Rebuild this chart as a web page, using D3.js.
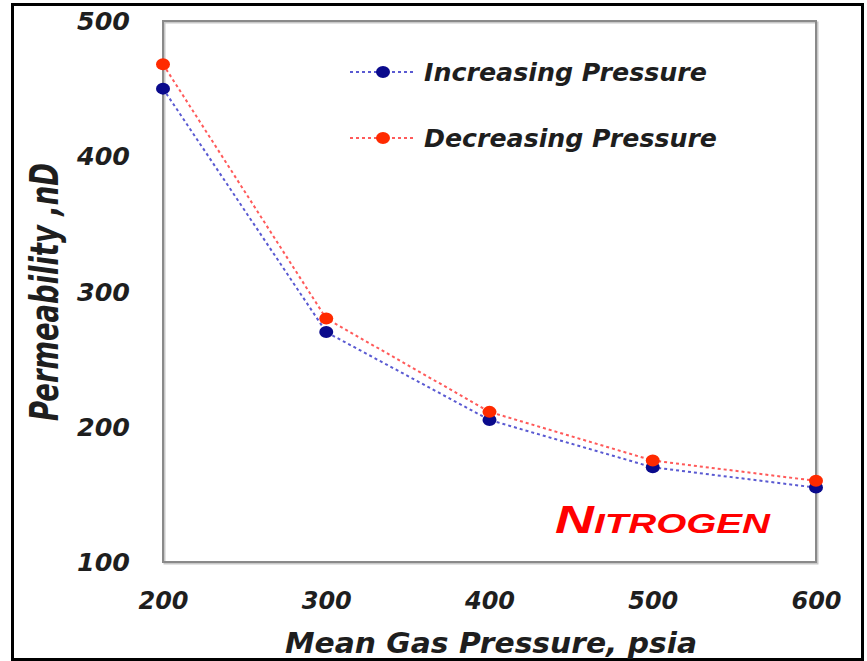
<!DOCTYPE html>
<html>
<head>
<meta charset="utf-8">
<script src="https://cdn.jsdelivr.net/npm/d3@7"></script>
<style>
  html, body { margin: 0; padding: 0; background: #fff; }
  svg { display: block; }
  text { font-family: "DejaVu Sans", sans-serif; font-weight: bold; font-style: italic; fill: #1e1e1e; }
</style>
</head>
<body>
<script>
// Mean gas pressure (psia) and measured permeability (nD) for nitrogen
const pressures = [200, 300, 400, 500, 600];
const increasingPressure = [450, 270, 205, 170, 155];
const decreasingPressure = [468, 280, 211, 175, 160];
const xTicks = [200, 300, 400, 500, 600];
const yTicks = [100, 200, 300, 400, 500];
const seriesNames = ["Increasing Pressure", "Decreasing Pressure"];

const W = 867, H = 661;
const plot = { left: 163, top: 21, right: 816, bottom: 562 };

const svg = d3.select("body").append("svg").attr("width", W).attr("height", H);

const x = d3.scaleLinear().domain([200, 600]).range([plot.left, plot.right]);
const y = d3.scaleLinear().domain([100, 500]).range([plot.bottom, plot.top]);

// outer border
svg.append("rect")
  .attr("x", 12.5).attr("y", 4.5).attr("width", 850).attr("height", 655)
  .attr("fill", "none").attr("stroke", "#000").attr("stroke-width", 3);

// plot frame with a soft shadow edge
svg.append("rect")
  .attr("x", plot.left + 1.5).attr("y", plot.top + 1.5)
  .attr("width", plot.right - plot.left).attr("height", plot.bottom - plot.top)
  .attr("fill", "none").attr("stroke", "#c8c8c8").attr("stroke-width", 2);
svg.append("rect")
  .attr("x", plot.left).attr("y", plot.top)
  .attr("width", plot.right - plot.left).attr("height", plot.bottom - plot.top)
  .attr("fill", "none").attr("stroke", "#8a8a8a").attr("stroke-width", 2);

// y axis labels
const yAxis = svg.append("g")
  .attr("transform", `translate(${plot.left - 33},0)`)
  .call(d3.axisLeft(y).tickValues(yTicks).tickSize(0).tickPadding(0).tickFormat(d3.format("d")));
yAxis.select(".domain").remove();
yAxis.selectAll("text")
  .attr("font-size", 24).attr("font-family", null).attr("fill", "#1e1e1e")
  .attr("dy", "0.36em").attr("text-anchor", "end")
  .attr("textLength", 53).attr("lengthAdjust", "spacingAndGlyphs");

// x axis labels
const xAxis = svg.append("g")
  .attr("transform", `translate(0,${plot.bottom + 38})`)
  .call(d3.axisBottom(x).tickValues(xTicks).tickSize(0).tickPadding(0).tickFormat(d3.format("d")));
xAxis.select(".domain").remove();
xAxis.selectAll("text")
  .attr("font-size", 24).attr("font-family", null).attr("fill", "#1e1e1e")
  .attr("dy", "0.36em").attr("y", 0);

// axis titles
svg.append("text")
  .attr("x", 491).attr("y", 653)
  .attr("text-anchor", "middle").attr("font-size", 28)
  .attr("textLength", 412).attr("lengthAdjust", "spacingAndGlyphs")
  .text("Mean Gas Pressure, psia");

svg.append("text")
  .attr("transform", "translate(58,292) rotate(-90) scale(1,1.4)")
  .attr("text-anchor", "middle").attr("font-size", 28)
  .attr("textLength", 258).attr("lengthAdjust", "spacingAndGlyphs")
  .text("Permeability ,nD");

const series = [
  { name: seriesNames[0], values: increasingPressure, line: "#5a5ad2", dot: "#0a0a8c", len: 283 },
  { name: seriesNames[1], values: decreasingPressure, line: "#ff5a5a", dot: "#ff2a00", len: 293 }
];

const line = d3.line().x((d, i) => x(pressures[i])).y(d => y(d));

series.forEach(s => {
  svg.append("path")
    .datum(s.values)
    .attr("d", line)
    .attr("fill", "none")
    .attr("stroke", s.line)
    .attr("stroke-width", 2)
    .attr("stroke-dasharray", "3,3");
  svg.append("g").selectAll("ellipse")
    .data(s.values)
    .join("ellipse")
    .attr("cx", (d, i) => x(pressures[i]))
    .attr("cy", d => y(d))
    .attr("rx", 7).attr("ry", 6)
    .attr("fill", s.dot);
});

// legend
const legend = svg.append("g");
series.forEach((s, i) => {
  const ly = 72 + i * 66;
  legend.append("line")
    .attr("x1", 350).attr("x2", 416).attr("y1", ly).attr("y2", ly)
    .attr("stroke", s.line).attr("stroke-width", 2).attr("stroke-dasharray", "3,3");
  legend.append("ellipse")
    .attr("cx", 383).attr("cy", ly).attr("rx", 7).attr("ry", 6).attr("fill", s.dot);
  legend.append("text")
    .attr("x", 424).attr("y", ly).attr("dy", "0.36em")
    .attr("font-size", 24)
    .attr("textLength", s.len).attr("lengthAdjust", "spacingAndGlyphs")
    .text(s.name);
});

// gas label in small caps
const gas = svg.append("text")
  .attr("x", 555).attr("y", 533)
  .attr("textLength", 215).attr("lengthAdjust", "spacingAndGlyphs")
  .style("font-family", "'Liberation Sans', Arial, sans-serif")
  .style("fill", "#ff0000");
gas.append("tspan").attr("font-size", 39).text("N");
gas.append("tspan").attr("font-size", 28).text("ITROGEN");
</script>
</body>
</html>
